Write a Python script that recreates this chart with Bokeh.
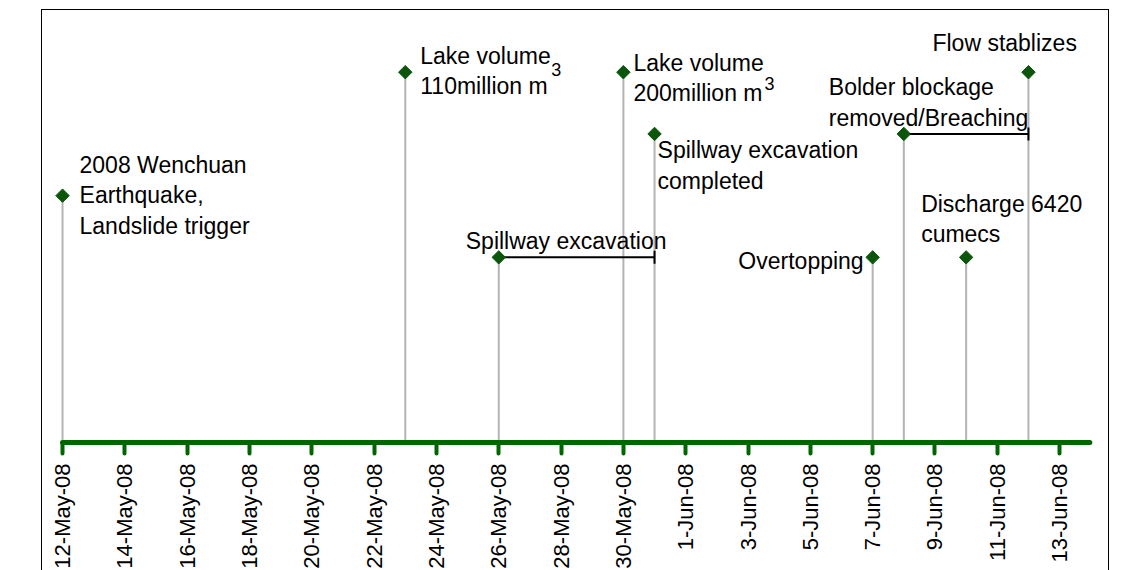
import math
import pandas as pd
from bokeh.plotting import figure
from bokeh.models import FixedTicker, ColumnDataSource, Spacer
from bokeh.layouts import row, column
from bokeh.core.properties import value
from bokeh.embed import file_html
from bokeh.resources import INLINE

# ---------------- data ----------------
event_dates = ["2008-05-12", "2008-05-23", "2008-05-26", "2008-05-30", "2008-05-31",
               "2008-06-07", "2008-06-08", "2008-06-10", "2008-06-12"]
event_levels = [4, 6, 3, 6, 5, 3, 5, 3, 6]
event_labels = ["2008 Wenchuan\nEarthquake,\nLandslide trigger",
                "Lake volume\n110million m",
                "Spillway excavation",
                "Lake volume\n200million m",
                "Spillway excavation\ncompleted",
                "Overtopping",
                "Bolder blockage\nremoved/Breaching",
                "Discharge 6420\ncumecs",
                "Flow stablizes"]
superscript_events = [1, 3]
superscript_texts = ["3", "3"]

span_starts = ["2008-05-26", "2008-06-08"]
span_ends = ["2008-05-31", "2008-06-12"]
span_levels = [3, 5]

tick_dates = ["2008-05-12", "2008-05-14", "2008-05-16", "2008-05-18", "2008-05-20",
              "2008-05-22", "2008-05-24", "2008-05-26", "2008-05-28", "2008-05-30",
              "2008-06-01", "2008-06-03", "2008-06-05", "2008-06-07", "2008-06-09",
              "2008-06-11", "2008-06-13"]
tick_labels = ["12-May-08", "14-May-08", "16-May-08", "18-May-08", "20-May-08",
               "22-May-08", "24-May-08", "26-May-08", "28-May-08", "30-May-08",
               "1-Jun-08", "3-Jun-08", "5-Jun-08", "7-Jun-08", "9-Jun-08",
               "11-Jun-08", "13-Jun-08"]

# ---------------- helpers / styles ----------------
origin = pd.Timestamp(event_dates[0])


def day(s):
    return (pd.Timestamp(s) - origin) / pd.Timedelta(days=1)


ex = [day(d) for d in event_dates]
tx = [int(round(day(d))) for d in tick_dates]
sx0 = [day(d) for d in span_starts]
sx1 = [day(d) for d in span_ends]

# label placement (pixel offsets from the marker): dx, dy of first line, align
label_style = [
    (17, -31, "left"),
    (15, -16.5, "left"),
    (-33, -16, "left"),
    (10, -9.5, "left"),
    (3, 16.5, "left"),
    (-9, 4, "right"),
    (-75, -46.5, "left"),
    (-45, -53.5, "left"),
    (-96, -29.5, "left"),
]
sup_style = [(151, -3), (146, 11)]
LINE_H = 30.5

GREEN = "#006600"
MARK = "#0b560b"
FONT = "Liberation Sans"

px_per_day = 31.1
left_pad = 20
frame_w = 1066
x_start = -left_pad / px_per_day
x_end = x_start + frame_w / px_per_day

p = figure(frame_width=frame_w, frame_height=436,
           x_range=(x_start, x_end), y_range=(-0.081, 7.0),
           output_backend="svg", toolbar_location=None,
           y_axis_location=None,
           min_border_left=0, min_border_right=0, min_border_top=0, min_border_bottom=0,
           outline_line_color=None, background_fill_color="white",
           border_fill_color="white")
p.grid.visible = False

ax = p.xaxis[0]
ax.ticker = FixedTicker(ticks=tx)
ax.major_label_overrides = {t: l for t, l in zip(tx, tick_labels)}
ax.axis_line_color = None
ax.major_tick_line_color = GREEN
ax.major_tick_line_width = 4
ax.major_tick_line_cap = "round"
ax.major_tick_in = 5
ax.major_tick_out = 6
ax.minor_tick_line_color = None
ax.major_label_orientation = math.pi / 2
ax.major_label_text_font = FONT
ax.major_label_text_font_size = "22px"
ax.major_label_text_color = "black"
ax.major_label_standoff = 10

# stems
p.segment(x0=ex, y0=[0] * len(ex), x1=ex, y1=event_levels,
          line_color="#b4b4b4", line_width=2)

# baseline (time axis line)
line_end = tx[-1] + 0.97
p.segment(x0=[0], y0=[0], x1=[line_end], y1=[0],
          line_color=GREEN, line_width=5, line_cap="round")

# duration bars
p.segment(x0=sx0, y0=span_levels, x1=sx1, y1=span_levels,
          line_color="black", line_width=2)
p.scatter(x=sx1, y=span_levels, marker="dash", size=13, angle=math.pi / 2,
          line_color="black", line_width=2)

# markers
p.scatter(x=ex, y=event_levels, marker="square", size=9.5, angle=math.pi / 4,
          fill_color=MARK, line_color=MARK)

# labels
lx, ly, lt, lxo, lyo, la = [], [], [], [], [], []
for i, lab in enumerate(event_labels):
    dx, dy, al = label_style[i]
    for j, line in enumerate(lab.split("\n")):
        lx.append(ex[i])
        ly.append(event_levels[i])
        lt.append(line)
        lxo.append(dx)
        lyo.append(dy + j * LINE_H)
        la.append(al)
src = ColumnDataSource(dict(x=lx, y=ly, text=lt, xo=lxo, yo=lyo, align=la))
p.text(x="x", y="y", text="text", x_offset="xo", y_offset="yo", text_align="align",
       text_baseline="middle", text_font=value(FONT), text_font_size="23px",
       text_color="black", source=src)

# superscripts
sup_src = ColumnDataSource(dict(
    x=[ex[i] for i in superscript_events],
    y=[event_levels[i] for i in superscript_events],
    text=superscript_texts,
    xo=[s[0] for s in sup_style],
    yo=[s[1] for s in sup_style]))
p.text(x="x", y="y", text="text", x_offset="xo", y_offset="yo", text_align="center",
       text_baseline="middle", text_font=value(FONT), text_font_size="18px",
       text_color="black", source=sup_src)

p.styles = {"border-top": "1px solid black", "border-left": "1px solid black",
            "border-right": "1px solid black"}

layout = column(Spacer(height=9), row(Spacer(width=41), p))

open("out.html", "w").write(file_html(layout, INLINE))
